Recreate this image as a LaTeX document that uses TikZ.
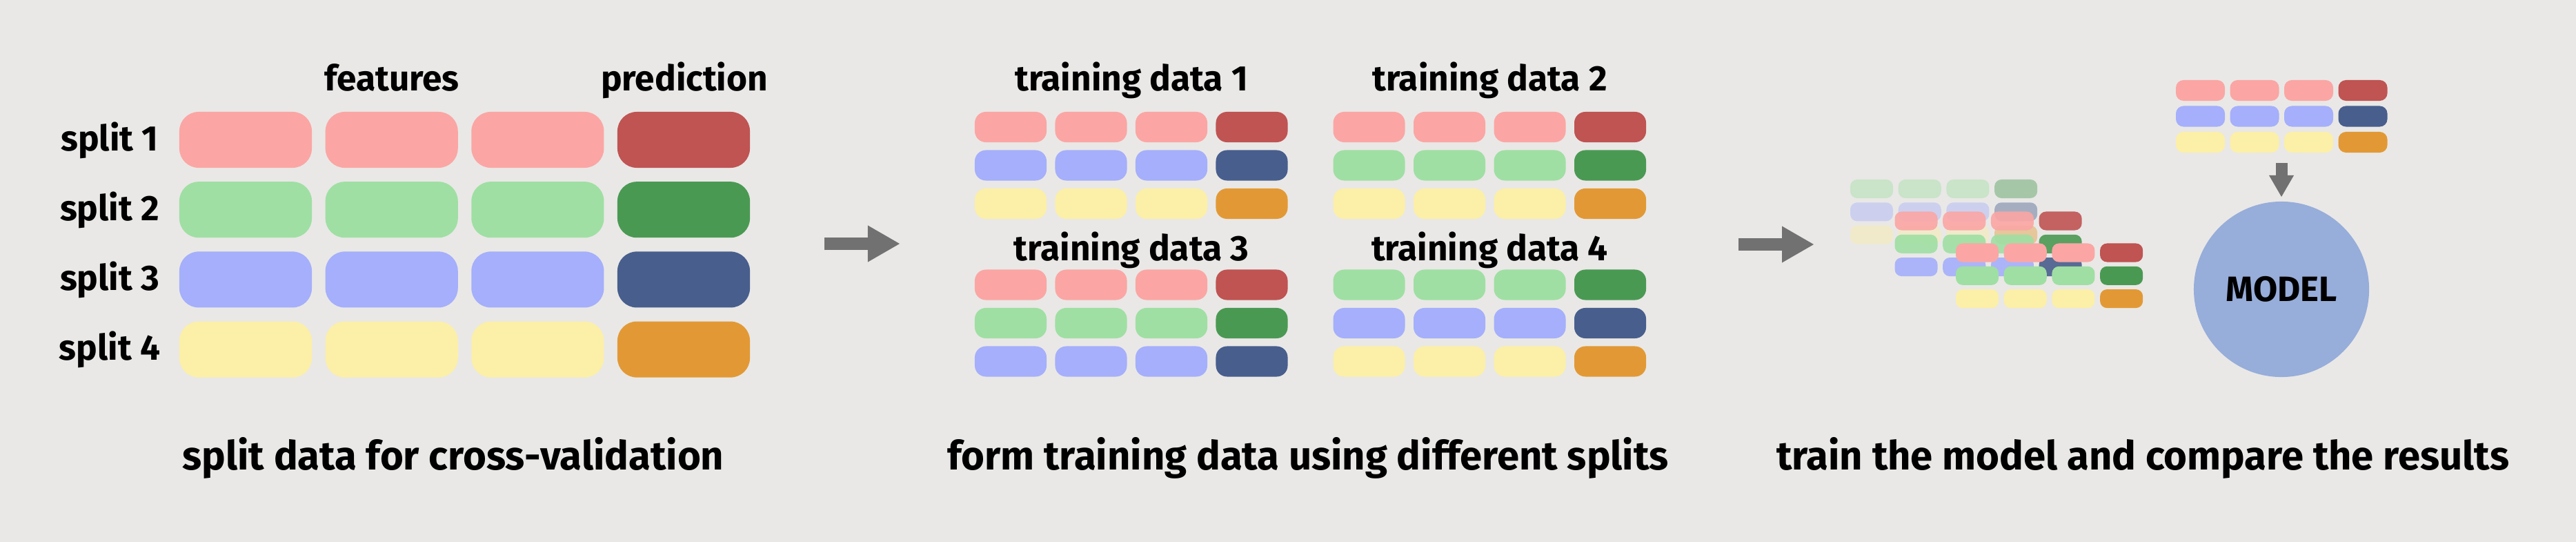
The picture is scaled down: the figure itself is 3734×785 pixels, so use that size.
\documentclass[tikz,border=0pt]{standalone}
\usepackage{fontspec}
\setmainfont{Fira Sans}
\usetikzlibrary{arrows.meta}
\definecolor{bgc}{HTML}{E9E8E6}
\definecolor{lred}{HTML}{FBA6A4}
\definecolor{dred}{HTML}{BF5453}
\definecolor{lgreen}{HTML}{9FDFA3}
\definecolor{dgreen}{HTML}{4A9953}
\definecolor{lblue}{HTML}{A5AFFB}
\definecolor{dblue}{HTML}{485E8D}
\definecolor{lyellow}{HTML}{FCEFA7}
\definecolor{dyellow}{HTML}{E29935}
\definecolor{arrowgray}{HTML}{717171}
\definecolor{modelc}{HTML}{97ADDA}
\begin{document}
\begin{tikzpicture}[x=0.01cm,y=-0.01cm,
  big cell/.style={rectangle,minimum width=1.92cm,minimum height=0.81cm,rounded corners=0.28cm,inner sep=0pt},
  mid cell/.style={rectangle,minimum width=1.04cm,minimum height=0.44cm,rounded corners=0.16cm,inner sep=0pt},
  small cell/.style={rectangle,minimum width=0.71cm,minimum height=0.30cm,rounded corners=0.11cm,inner sep=0pt},
  tiny cell/.style={rectangle,minimum width=0.62cm,minimum height=0.27cm,rounded corners=0.10cm,inner sep=0pt},
  head/.style={font=\bfseries\fontsize{14.6}{17}\selectfont,anchor=base,inner sep=0pt},
  caption/.style={font=\bfseries\fontsize{16.5}{19}\selectfont,anchor=base,inner sep=0pt},
  block arrow/.style={draw=arrowgray,line width=0.17cm,-{Triangle[length=0.46cm,width=0.53cm,line width=0pt]}}]
    \path[use as bounding box,fill=bgc] (0,0) rectangle (3734,785);

    \node[head] at (568, 132) (features) {features};
    \node[head] at (992, 132) (prediction) {prediction};
    \foreach \r/\col in {1/red,2/green,3/blue,4/yellow} {
        \node[head] at (159, {101.2*\r+117}) (split\r) {split \r};
        \foreach \c in {1,2,3}
            \node[big cell,fill=l\col] at ({356+211.7*(\c-1)}, {101.2*\r+101.3}) (s\r c\c) {};
        \node[big cell,fill=d\col] at (991, {101.2*\r+101.3}) (s\r p) {};
    }
    \node[caption] at (657, 680) (cap1) {split data for cross-validation};

    \coordinate (arr1a) at (1195, 353);
    \coordinate (arr1b) at (1304, 353);
    \draw[block arrow] (arr1a) -- (arr1b);

    \foreach \g/\gx/\gy/\ly/\ca/\cb/\cc in {1/0/0/132/red/blue/yellow,2/519.5/0/132/red/green/yellow,3/0/228.5/377/red/green/blue,4/519.5/228.5/377/green/blue/yellow} {
        \node[head] at ({1640+\gx}, \ly) (train\g) {training data \g};
        \foreach \r/\col in {0/\ca,1/\cb,2/\cc} {
            \foreach \c in {0,1,2}
                \node[mid cell,fill=l\col] at ({1465+\gx+116.5*\c}, {184+\gy+55.5*\r}) (t\g r\r c\c) {};
            \node[mid cell,fill=d\col] at ({1814.5+\gx}, {184+\gy+55.5*\r}) (t\g r\r p) {};
        }
    }
    \node[caption] at (1896, 680) (cap2) {form training data using different splits};

    \coordinate (arr2a) at (2520, 354);
    \coordinate (arr2b) at (2629, 354);
    \draw[block arrow] (arr2a) -- (arr2b);

    \foreach \g/\gx/\gy/\op/\ca/\cb/\cc in {1/2713/273.5/0.42/green/blue/yellow,2/2777.5/320/0.9/red/green/blue,3/2866/366/1/red/green/yellow} {
        \foreach \r/\col in {0/\ca,1/\cb,2/\cc} {
            \foreach \c in {0,1,2}
                \node[tiny cell,fill=l\col,fill opacity=\op] at ({\gx+69.7*\c}, {\gy+33.3*\r}) (m\g r\r c\c) {};
            \node[tiny cell,fill=d\col,fill opacity=\op] at ({\gx+209.1}, {\gy+33.3*\r}) (m\g r\r p) {};
        }
    }

    \foreach \r/\col in {0/red,1/blue,2/yellow} {
        \foreach \c in {0,1,2}
            \node[small cell,fill=l\col] at ({3189.5+78.5*\c}, {131+37.5*\r}) (n r\r c\c) {};
        \node[small cell,fill=d\col] at (3425, {131+37.5*\r}) (n r\r p) {};
    }
    \coordinate (arr3a) at (3307, 236);
    \coordinate (arr3b) at (3307, 285);
    \draw[draw=arrowgray,line width=0.17cm,-{Triangle[length=0.31cm,width=0.36cm,line width=0pt]}] (arr3a) -- (arr3b);

    \node[circle,fill=modelc,minimum size=2.54cm,inner sep=0pt,font=\bfseries\fontsize{14.5}{17}\selectfont] at (3307, 419) (model) {MODEL};
    \node[caption] at (3106, 680) (cap3) {train the model and compare the results};
\end{tikzpicture}
\end{document}
